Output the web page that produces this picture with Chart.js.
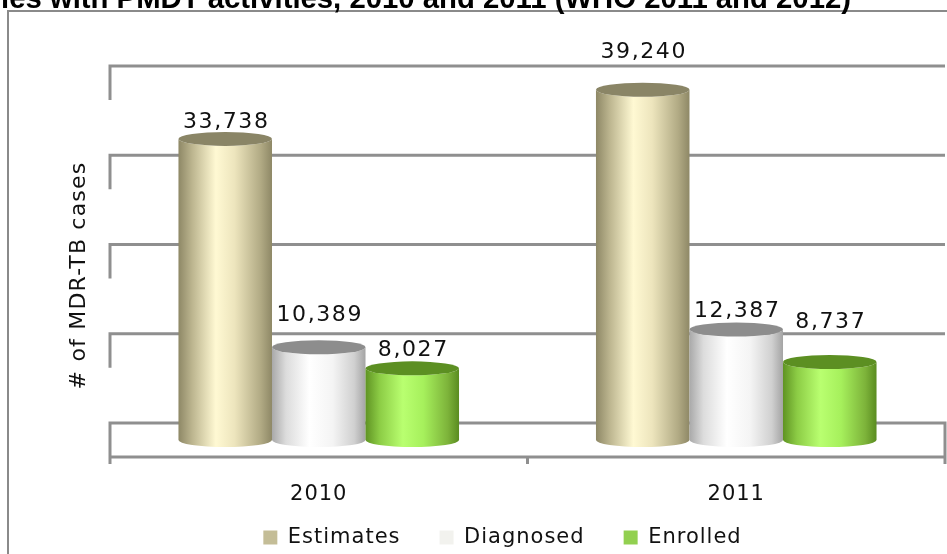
<!DOCTYPE html>
<html>
<head>
<meta charset="utf-8">
<script src="https://cdn.jsdelivr.net/npm/chart.js@4"></script>
<style>
html, body { margin: 0; padding: 0; background: #fff; overflow: hidden; }
#wrap { position: relative; width: 947px; height: 554px; }
</style>
</head>
<body>
<div id="wrap"><canvas id="chart" width="947" height="554"></canvas></div>
<script>
// data
const years = ['2010', '2011'];
const estimates = [33738, 39240];
const diagnosed = [10389, 12387];
const enrolled = [8027, 8737];
const series_names = ['Estimates', 'Diagnosed', 'Enrolled'];
const y_title = '# of MDR-TB cases';
const title_text = 'ies with PMDT activities, 2010 and 2011 (WHO 2011 and 2012)';

// looks
let styles = [
    {legend: '#c4bd97', top: '#8a8566',
     stops: [[0, '#8e8866'], [0.15, '#bdb690'], [0.4, '#fff9d3'], [0.6, '#ede5bd'], [0.88, '#b1aa84'], [1, '#8e8866']]},
    {legend: '#f2f2ee', top: '#8d8d8d',
     stops: [[0, '#a9a9a9'], [0.15, '#dcdcdc'], [0.4, '#ffffff'], [0.65, '#f4f4f4'], [0.88, '#d0d0d0'], [1, '#a4a4a4']]},
    {legend: '#92d050', top: '#5c8f22',
     stops: [[0, '#5f9323'], [0.15, '#8ccc45'], [0.4, '#b9ff70'], [0.62, '#a6f05c'], [0.88, '#7db33a'], [1, '#5a8c20']]},
];
// how far each value label sits above its cylinder top, per series per year
let label_lift = [[11, 32], [26, 12], [12, 34]];
let wall_depth = 17;
let line_colour = '#8f8f8f';
let font_family = '"DejaVu Sans", Verdana, sans-serif';
let gap = '   ';

let fmt = v => v.toLocaleString('en-US');

let draw_cylinder = function(ctx, bar, style) {
    let rx = bar.width / 2, ry = 7;
    let left = bar.x - rx, right = bar.x + rx;
    let grad = ctx.createLinearGradient(left, 0, right, 0);
    style.stops.forEach(([o, c]) => grad.addColorStop(o, c));
    ctx.save();
    ctx.fillStyle = grad;
    ctx.beginPath();
    ctx.moveTo(left, bar.y);
    ctx.lineTo(left, bar.base);
    ctx.ellipse(bar.x, bar.base, rx, ry, 0, Math.PI, 0, true);
    ctx.lineTo(right, bar.y);
    ctx.ellipse(bar.x, bar.y, rx, ry, 0, 0, Math.PI, false);
    ctx.closePath();
    ctx.fill();
    // lid
    ctx.fillStyle = style.top;
    ctx.beginPath();
    ctx.ellipse(bar.x, bar.y, rx, ry, 0, 0, Math.PI * 2);
    ctx.fill();
    ctx.restore();
};

let draw_frame = function(chart) {
    let ctx = chart.ctx, area = chart.chartArea;
    let y = chart.scales.y, x = chart.scales.x;
    ctx.save();
    ctx.strokeStyle = line_colour;
    ctx.lineWidth = 3;
    y.ticks.forEach(t => {
        let py = y.getPixelForValue(t.value) - wall_depth;
        ctx.beginPath();
        ctx.moveTo(area.left, py + 2 * wall_depth);
        ctx.lineTo(area.left, py);
        ctx.lineTo(area.right, py);
        if (t.value === 0) ctx.lineTo(area.right, py + 2 * wall_depth);
        ctx.stroke();
    });
    // floor front edge with category ticks
    let fy = y.getPixelForValue(0) + wall_depth;
    ctx.beginPath();
    ctx.moveTo(area.left, fy);
    ctx.lineTo(area.right, fy);
    ctx.stroke();
    let marks = [area.left, area.right];
    for (let i = 0; i < years.length - 1; i++) {
        marks.push((x.getPixelForValue(i) + x.getPixelForValue(i + 1)) / 2);
    }
    marks.forEach(mx => {
        ctx.beginPath();
        ctx.moveTo(mx, fy);
        ctx.lineTo(mx, fy + 7);
        ctx.stroke();
    });
    ctx.restore();
};

let cylinders_plugin = {
    id: 'cylinders',
    beforeUpdate(chart) {
        chart.ctx.letterSpacing = '1px';
    },
    beforeDraw(chart) {
        let ctx = chart.ctx;
        ctx.letterSpacing = '1px';
        ctx.save();
        ctx.strokeStyle = '#8a8a8a';
        ctx.lineWidth = 2;
        ctx.strokeRect(8, 11, 2000, 2000);
        ctx.letterSpacing = '0px';
        ctx.fillStyle = '#000';
        ctx.font = 'bold 29.3px "Liberation Sans", Arial, sans-serif';
        ctx.textBaseline = 'alphabetic';
        ctx.fillText(title_text, 1, 8);
        ctx.restore();
    },
    beforeDatasetsDraw(chart) {
        let ctx = chart.ctx;
        draw_frame(chart);
        chart.data.datasets.forEach((ds, i) => {
            chart.getDatasetMeta(i).data.forEach(bar => draw_cylinder(ctx, bar, styles[i]));
        });
        ctx.save();
        ctx.letterSpacing = '1.6px';
        ctx.font = '22px ' + font_family;
        ctx.fillStyle = '#111';
        ctx.textAlign = 'center';
        ctx.textBaseline = 'alphabetic';
        chart.data.datasets.forEach((ds, i) => {
            chart.getDatasetMeta(i).data.forEach((bar, j) => {
                ctx.fillText(fmt(ds.data[j]), bar.x + 1, bar.y - label_lift[i][j]);
            });
        });
        ctx.restore();
        return false;
    },
    afterDraw(chart) {
        // y axis title, a little below the middle of the wall as in the original
        let ctx = chart.ctx, area = chart.chartArea;
        ctx.save();
        ctx.letterSpacing = '1.2px';
        ctx.font = '22px ' + font_family;
        ctx.fillStyle = '#111';
        ctx.textAlign = 'center';
        ctx.textBaseline = 'alphabetic';
        ctx.translate(area.left - 25, (area.top + area.bottom) / 2 + 14);
        ctx.rotate(-Math.PI / 2);
        ctx.fillText(y_title, 0, 0);
        ctx.restore();
    }
};

let ctx = document.getElementById('chart').getContext('2d');
let chart = new Chart(ctx, {
    type: 'bar',
    data: {
        labels: years,
        datasets: [estimates, diagnosed, enrolled].map((d, i) => ({
            label: series_names[i],
            data: d,
            backgroundColor: styles[i].legend,
            borderWidth: 0,
            barPercentage: 1,
            categoryPercentage: 0.672,
        })),
    },
    options: {
        responsive: false,
        animation: false,
        layout: {padding: {left: 60, right: 2, top: 83, bottom: -4}},
        plugins: {
            legend: {
                position: 'bottom',
                labels: {
                    font: {family: font_family, size: 21},
                    color: '#111',
                    boxWidth: 14,
                    boxHeight: 14,
                    padding: 16,
                    // Excel leaves a wide gap between entries
                    generateLabels(chart) {
                        let items = Chart.defaults.plugins.legend.labels.generateLabels(chart);
                        items.forEach((it, i) => { if (i < items.length - 1) it.text += gap; });
                        return items;
                    },
                },
            },
            tooltip: {enabled: false},
        },
        scales: {
            x: {
                grid: {display: false, drawTicks: false},
                border: {display: false},
                ticks: {
                    font: {family: font_family, size: 21},
                    color: '#111',
                    padding: 42,
                },
                afterFit: s => { s.height = 71; },
            },
            y: {
                min: 0,
                max: 40000,
                ticks: {display: false, stepSize: 10000},
                grid: {display: false, drawTicks: false},
                border: {display: false},
                afterFit: s => { s.width = 50; },
            },
        },
    },
    plugins: [cylinders_plugin],
});
</script>
</body>
</html>
